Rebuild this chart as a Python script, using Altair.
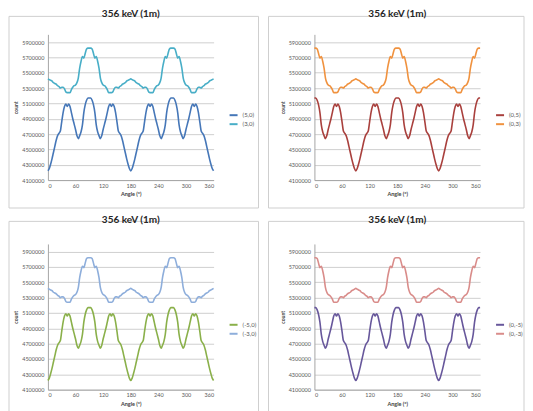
import altair as alt
import pandas as pd

FONT = "Lato"
TITLE_TEXT = "356 keV (1m)"

angle = list(range(0, 361, 3))
x_ticks = [0, 60, 120, 180, 240, 300, 360]
y_ticks = [4100000, 4300000, 4500000, 4700000, 4900000, 5100000, 5300000, 5500000, 5700000, 5900000]

s_5_0 = [
    4220000, 4250000, 4310000, 4380000, 4460000, 4540000, 4620000, 4680000, 4710000, 4740000,
    4860000, 4980000, 5060000, 5090000, 5060000, 5090000, 5060000, 4980000, 4900000, 4830000,
    4760000, 4680000, 4640000, 4680000, 4730000, 4820000, 4980000, 5080000, 5140000, 5170000,
    5170000, 5170000, 5140000, 5080000, 4980000, 4820000, 4730000, 4680000, 4640000, 4680000,
    4760000, 4830000, 4900000, 4980000, 5060000, 5090000, 5060000, 5090000, 5060000, 4980000,
    4860000, 4740000, 4710000, 4680000, 4620000, 4540000, 4460000, 4380000, 4310000, 4250000,
    4220000,
    4250000, 4310000, 4380000, 4460000, 4540000, 4620000, 4680000, 4710000, 4740000, 4860000,
    4980000, 5060000, 5090000, 5060000, 5090000, 5060000, 4980000, 4900000, 4830000, 4760000,
    4680000, 4640000, 4680000, 4730000, 4820000, 4980000, 5080000, 5140000, 5170000, 5170000,
    5170000, 5140000, 5080000, 4980000, 4820000, 4730000, 4680000, 4640000, 4680000, 4760000,
    4830000, 4900000, 4980000, 5060000, 5090000, 5060000, 5090000, 5060000, 4980000, 4860000,
    4740000, 4710000, 4680000, 4620000, 4540000, 4460000, 4380000, 4310000, 4250000, 4220000,
]

s_3_0 = [
    5420000, 5410000, 5400000, 5390000, 5370000, 5360000, 5350000, 5330000, 5320000, 5300000,
    5310000, 5310000, 5290000, 5250000, 5240000, 5240000, 5240000, 5280000, 5310000, 5330000,
    5340000, 5370000, 5430000, 5560000, 5650000, 5710000, 5690000, 5750000, 5810000, 5820000,
    5820000, 5820000, 5810000, 5750000, 5690000, 5710000, 5650000, 5560000, 5430000, 5370000,
    5340000, 5330000, 5310000, 5280000, 5240000, 5240000, 5240000, 5250000, 5290000, 5310000,
    5310000, 5300000, 5320000, 5330000, 5350000, 5360000, 5370000, 5390000, 5400000, 5410000,
    5420000,
    5410000, 5400000, 5390000, 5370000, 5360000, 5350000, 5330000, 5320000, 5300000, 5310000,
    5310000, 5290000, 5250000, 5240000, 5240000, 5240000, 5280000, 5310000, 5330000, 5340000,
    5370000, 5430000, 5560000, 5650000, 5710000, 5690000, 5750000, 5810000, 5820000, 5820000,
    5820000, 5810000, 5750000, 5690000, 5710000, 5650000, 5560000, 5430000, 5370000, 5340000,
    5330000, 5310000, 5280000, 5240000, 5240000, 5240000, 5250000, 5290000, 5310000, 5310000,
    5300000, 5320000, 5330000, 5350000, 5360000, 5370000, 5390000, 5400000, 5410000, 5420000,
]

s_0_5 = [
    5170000, 5170000, 5140000, 5080000, 4980000, 4820000, 4730000, 4680000, 4640000, 4680000,
    4760000, 4830000, 4900000, 4980000, 5060000, 5090000, 5060000, 5090000, 5060000, 4980000,
    4860000, 4740000, 4710000, 4680000, 4620000, 4540000, 4460000, 4380000, 4310000, 4250000,
    4220000,
    4250000, 4310000, 4380000, 4460000, 4540000, 4620000, 4680000, 4710000, 4740000, 4860000,
    4980000, 5060000, 5090000, 5060000, 5090000, 5060000, 4980000, 4900000, 4830000, 4760000,
    4680000, 4640000, 4680000, 4730000, 4820000, 4980000, 5080000, 5140000, 5170000, 5170000,
    5170000, 5140000, 5080000, 4980000, 4820000, 4730000, 4680000, 4640000, 4680000, 4760000,
    4830000, 4900000, 4980000, 5060000, 5090000, 5060000, 5090000, 5060000, 4980000, 4860000,
    4740000, 4710000, 4680000, 4620000, 4540000, 4460000, 4380000, 4310000, 4250000, 4220000,
    4250000, 4310000, 4380000, 4460000, 4540000, 4620000, 4680000, 4710000, 4740000, 4860000,
    4980000, 5060000, 5090000, 5060000, 5090000, 5060000, 4980000, 4900000, 4830000, 4760000,
    4680000, 4640000, 4680000, 4730000, 4820000, 4980000, 5080000, 5140000, 5170000, 5170000,
]

s_0_3 = [
    5820000, 5820000, 5810000, 5750000, 5690000, 5710000, 5650000, 5560000, 5430000, 5370000,
    5340000, 5330000, 5310000, 5280000, 5240000, 5240000, 5240000, 5250000, 5290000, 5310000,
    5310000, 5300000, 5320000, 5330000, 5350000, 5360000, 5370000, 5390000, 5400000, 5410000,
    5420000,
    5410000, 5400000, 5390000, 5370000, 5360000, 5350000, 5330000, 5320000, 5300000, 5310000,
    5310000, 5290000, 5250000, 5240000, 5240000, 5240000, 5280000, 5310000, 5330000, 5340000,
    5370000, 5430000, 5560000, 5650000, 5710000, 5690000, 5750000, 5810000, 5820000, 5820000,
    5820000, 5810000, 5750000, 5690000, 5710000, 5650000, 5560000, 5430000, 5370000, 5340000,
    5330000, 5310000, 5280000, 5240000, 5240000, 5240000, 5250000, 5290000, 5310000, 5310000,
    5300000, 5320000, 5330000, 5350000, 5360000, 5370000, 5390000, 5400000, 5410000, 5420000,
    5410000, 5400000, 5390000, 5370000, 5360000, 5350000, 5330000, 5320000, 5300000, 5310000,
    5310000, 5290000, 5250000, 5240000, 5240000, 5240000, 5280000, 5310000, 5330000, 5340000,
    5370000, 5430000, 5560000, 5650000, 5710000, 5690000, 5750000, 5810000, 5820000, 5820000,
]

# the mirrored detector positions
s_m5_0 = list(s_5_0)
s_m3_0 = list(s_3_0)
s_0_m5 = list(s_0_5)
s_0_m3 = list(s_0_3)

panels = [
    (["(5,0)", "(3,0)"], [s_5_0, s_3_0], ["#4677B8", "#48AEC7"]),
    (["(0,5)", "(0,3)"], [s_0_5, s_0_3], ["#A9403D", "#F0923F"]),
    (["(-5,0)", "(-3,0)"], [s_m5_0, s_m3_0], ["#8AB04A", "#8EAEDB"]),
    (["(0,-5)", "(0,-3)"], [s_0_m5, s_0_m3], ["#67579B", "#D98C8A"]),
]
# frame box (left, top, right, bottom) relative to plot origin, and title offset
frames = [
    (-39, -18, 211, 174, -13.5),
    (-46, -18, 210, 174, -13.5),
    (-39, -22.6, 211, 173.4, -14.5),
    (-46, -22.6, 210, 173.4, -14.5),
]

W, H = 166, 146


def make_panel(names, series, colors, frame):
    rows = []
    for name, vals in zip(names, series):
        for a, v in zip(angle, vals):
            rows.append({"angle": a, "count": v, "series": name})
    df = pd.DataFrame(rows)
    l, t, r, b, toff = frame

    box = alt.Chart(pd.DataFrame({"f": [0]})).mark_rect(
        filled=False, stroke="#CFCFCF", strokeWidth=1
    ).encode(x=alt.value(l), x2=alt.value(r), y=alt.value(t), y2=alt.value(b))

    lines = alt.Chart(df).mark_line(strokeWidth=1.6, interpolate="monotone").encode(
        x=alt.X(
            "angle:Q",
            scale=alt.Scale(domain=[0, 360], nice=False),
            axis=alt.Axis(
                values=x_ticks, title="Angle (°)", grid=False, ticks=False,
                labelFontSize=5.5, labelColor="#595959", labelFont=FONT, labelPadding=3,
                titleFontSize=5.5, titleFont=FONT, titleFontWeight="bold", titleColor="#404040",
                titlePadding=3, domainColor="#A6A6A6", domainWidth=1,
            ),
        ),
        y=alt.Y(
            "count:Q",
            scale=alt.Scale(domain=[4100000, 6000000], nice=False, zero=False),
            axis=alt.Axis(
                values=y_ticks, format="d", title="count", ticks=False,
                grid=True, gridColor="#CFCFCF", gridWidth=1,
                labelFontSize=5.5, labelColor="#595959", labelFont=FONT, labelPadding=4,
                titleFontSize=5, titleFont=FONT, titleFontWeight="bold", titleColor="#404040",
                titlePadding=3, domainColor="#A6A6A6", domainWidth=1,
            ),
        ),
        color=alt.Color(
            "series:N",
            scale=alt.Scale(domain=names, range=colors),
            legend=alt.Legend(
                orient="none", legendX=181, legendY=76, title=None,
                symbolType="stroke", symbolSize=64, symbolStrokeWidth=2,
                labelFontSize=6, labelFont=FONT, labelColor="#595959",
                rowPadding=0, labelOffset=4,
            ),
        ),
        order=alt.Order("angle:Q"),
    )

    return alt.layer(box, lines).properties(
        width=W, height=H,
        title=alt.TitleParams(
            TITLE_TEXT, fontSize=10, font=FONT, fontWeight="bold", color="#262626",
            anchor="middle", frame="group", offset=toff, baseline="bottom",
        ),
    )


charts = [make_panel(n, s, c, f) for (n, s, c), f in zip(panels, frames)]

chart = alt.concat(
    *charts, columns=2, spacing={"row": 5, "column": 8}
).resolve_scale(
    color="independent", x="independent", y="independent"
).properties(
    padding=0, background="white"
).configure_view(
    stroke="transparent"
)

chart.save("out.html", embed_options={"renderer": "svg", "actions": False})
